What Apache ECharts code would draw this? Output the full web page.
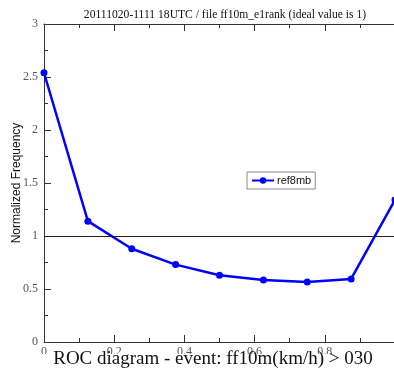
<!DOCTYPE html>
<html><head><meta charset="utf-8">
<script src="https://cdn.jsdelivr.net/npm/echarts@6/dist/echarts.min.js"></script>
<style>html,body{margin:0;padding:0;background:#fff}#c{width:394px;height:368px}</style>
</head><body><div id="c"></div>
<script>
const xValues = [0, 0.125, 0.25, 0.375, 0.5, 0.625, 0.75, 0.875, 1.0];
const ref8mb = [2.54, 1.14, 0.88, 0.73, 0.63, 0.585, 0.565, 0.595, 1.34];
const idealValue = 1;
const titleText = '20111020-1111 18UTC / file ff10m_e1rank (ideal value is 1)';
const bottomText = 'ROC diagram - event: ff10m(km/h) > 030';
const yName = 'Normalized Frequency';
const seriesName = 'ref8mb';

const chart = echarts.init(document.getElementById('c'), null, {renderer: 'canvas'});
const serif = '"Liberation Serif","DejaVu Serif",serif';
const sans = '"Liberation Sans","DejaVu Sans",sans-serif';
const tickCommon = {show: true, inside: true, length: 7, lineStyle: {color: '#333', width: 1}};
const minorCommon = {show: true, splitNumber: 2, length: 4, lineStyle: {color: '#333', width: 1}};
chart.setOption({
  animation: false,
  backgroundColor: '#fff',
  title: {text: titleText, left: 220, textAlign: 'center', top: 4,
    textStyle: {fontFamily: serif, fontSize: 11.6, fontWeight: 'normal', color: '#111'}},
  grid: {left: 44, right: -1, top: 24, bottom: 26, containLabel: false, outerBoundsMode: 'none'},
  legend: {data: [seriesName], left: 247, top: 172, orient: 'vertical',
    borderColor: '#888', borderWidth: 1, padding: [3, 4, 3, 4], itemWidth: 22, itemHeight: 8,
    itemGap: 0, textStyle: {fontFamily: sans, fontSize: 11, color: '#111', padding: [0, 0, 0, -2]}},
  xAxis: [{
    type: 'value', min: 0, max: 1, interval: 0.2, position: 'bottom',
    axisLine: {show: true, lineStyle: {color: '#333', width: 1}},
    axisTick: tickCommon, minorTick: minorCommon, splitLine: {show: false},
    axisLabel: {fontFamily: serif, fontSize: 12, color: '#555', margin: 4,
      formatter: v => (v >= 1 ? '' : String(v))}
  }, {
    type: 'value', min: 0, max: 1, interval: 0.2, position: 'top',
    axisLine: {show: true, lineStyle: {color: '#333', width: 1}},
    axisTick: tickCommon, minorTick: minorCommon, splitLine: {show: false},
    axisLabel: {show: false}
  }],
  yAxis: {
    type: 'value', min: 0, max: 3, interval: 0.5,
    name: yName, nameLocation: 'middle', nameGap: 21, nameMoveOverlap: false,
    nameTextStyle: {fontFamily: sans, fontSize: 12, color: '#111'},
    axisLine: {show: true, lineStyle: {color: '#333', width: 1}},
    axisTick: tickCommon, minorTick: minorCommon, splitLine: {show: false},
    axisLabel: {fontFamily: serif, fontSize: 12, color: '#555', margin: 6}
  },
  series: [{
    name: seriesName, type: 'line', xAxisIndex: 0,
    data: xValues.map((x, i) => [x, ref8mb[i]]),
    symbol: 'circle', symbolSize: 7, clip: false,
    lineStyle: {color: '#0000ff', width: 2.5}, itemStyle: {color: '#0000ff'},
    markLine: {silent: true, symbol: 'none', label: {show: false},
      lineStyle: {color: '#222', width: 1.2, type: 'solid'},
      data: [{yAxis: idealValue}]}
  }],
  graphic: [{
    type: 'rect', shape: {x: 40, y: 354, width: 354, height: 14}, z: 99,
    style: {fill: '#fff'}
  }, {
    type: 'text', x: 213, y: 358.6, z: 100,
    style: {text: bottomText, font: '19px ' + serif, fill: '#111', align: 'center',
      verticalAlign: 'middle'}
  }]
});
</script></body></html>
